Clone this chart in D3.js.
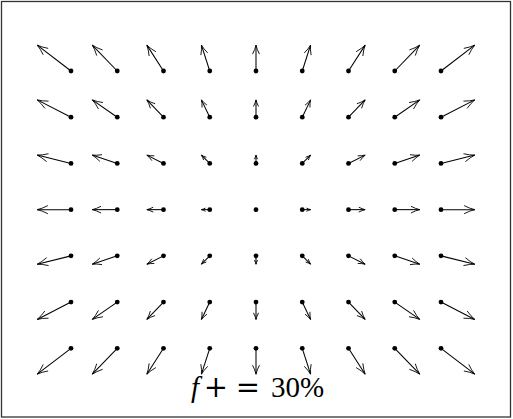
<!DOCTYPE html>
<html>
<head>
<meta charset="utf-8">
<script src="https://cdn.jsdelivr.net/npm/d3@7"></script>
<style>
  html, body { margin: 0; padding: 0; background: #fff; }
  svg { display: block; }
</style>
</head>
<body>
<script>
// Grid of sample points (grid units) and the displacement vector at each point.
const gridX = [-4, -3, -2, -1, 0, 1, 2, 3, 4];
const gridY = [3, 2, 1, 0, -1, -2, -3];

// Horizontal component, one row per gridY entry.
const U = [
  [-0.73, -0.54, -0.36, -0.18, 0, 0.18, 0.36, 0.54, 0.73],
  [-0.73, -0.54, -0.36, -0.18, 0, 0.18, 0.36, 0.54, 0.73],
  [-0.73, -0.54, -0.36, -0.18, 0, 0.18, 0.36, 0.54, 0.73],
  [-0.73, -0.54, -0.36, -0.18, 0, 0.18, 0.36, 0.54, 0.73],
  [-0.73, -0.54, -0.36, -0.18, 0, 0.18, 0.36, 0.54, 0.73],
  [-0.73, -0.54, -0.36, -0.18, 0, 0.18, 0.36, 0.54, 0.73],
  [-0.73, -0.54, -0.36, -0.18, 0, 0.18, 0.36, 0.54, 0.73]
];
// Vertical component (positive = up).
const V = [
  [0.56, 0.56, 0.56, 0.56, 0.56, 0.56, 0.56, 0.56, 0.56],
  [0.375, 0.375, 0.375, 0.375, 0.375, 0.375, 0.375, 0.375, 0.375],
  [0.18, 0.18, 0.18, 0.18, 0.18, 0.18, 0.18, 0.18, 0.18],
  [0, 0, 0, 0, 0, 0, 0, 0, 0],
  [-0.18, -0.18, -0.18, -0.18, -0.18, -0.18, -0.18, -0.18, -0.18],
  [-0.375, -0.375, -0.375, -0.375, -0.375, -0.375, -0.375, -0.375, -0.375],
  [-0.56, -0.56, -0.56, -0.56, -0.56, -0.56, -0.56, -0.56, -0.56]
];
const label = "30%";

const W = 513, H = 419;
const svg = d3.select("body").append("svg").attr("width", W).attr("height", H);

// Frame
svg.append("rect")
  .attr("x", 1.5).attr("y", 1.5)
  .attr("width", 509).attr("height", 415.5)
  .attr("fill", "none").attr("stroke", "#333").attr("stroke-width", 1.3);

const x = d3.scaleLinear().domain([-4, 4]).range([71, 441]);
const y = d3.scaleLinear().domain([-3, 3]).range([348.3, 71]);

const pts = [];
gridY.forEach((gy, r) => gridX.forEach((gx, c) => {
  pts.push({ gx, gy, u: U[r][c], v: V[r][c] });
}));

const g = svg.append("g");

pts.forEach(p => {
  const x0 = x(p.gx), y0 = y(p.gy);
  const x1 = x(p.gx + p.u), y1 = y(p.gy + p.v);
  const dx = x1 - x0, dy = y1 - y0;
  const len = Math.hypot(dx, dy);
  if (len > 0.5) {
    g.append("line")
      .attr("x1", x0).attr("y1", y0).attr("x2", x1).attr("y2", y1)
      .attr("stroke", "#000").attr("stroke-width", 1.05);
    // open arrowhead: two barbs swept back from the tip
    const hl = Math.min(11, 0.3 * len + 1.5);
    const ang = Math.atan2(dy, dx);
    const spread = 0.36;
    const path = d3.path();
    path.moveTo(x1 - hl * Math.cos(ang - spread), y1 - hl * Math.sin(ang - spread));
    path.quadraticCurveTo(
      x1 - 0.45 * hl * Math.cos(ang - spread * 0.6), y1 - 0.45 * hl * Math.sin(ang - spread * 0.6),
      x1, y1);
    path.quadraticCurveTo(
      x1 - 0.45 * hl * Math.cos(ang + spread * 0.6), y1 - 0.45 * hl * Math.sin(ang + spread * 0.6),
      x1 - hl * Math.cos(ang + spread), y1 - hl * Math.sin(ang + spread));
    g.append("path").attr("d", path.toString())
      .attr("fill", "none").attr("stroke", "#000").attr("stroke-width", 0.9)
      .attr("stroke-linecap", "round").attr("stroke-linejoin", "round");
  }
  g.append("circle").attr("cx", x0).attr("cy", y0).attr("r", 2.4).attr("fill", "#000");
});

// Caption, set with math-style spacing
const font = "'Liberation Serif', 'DejaVu Serif', serif";
const cap = svg.append("g").attr("font-family", font).attr("font-size", 29).attr("fill", "#000");
cap.append("text").attr("x", 191).attr("y", 397).attr("font-style", "italic").text("f");
cap.append("text").attr("x", 216).attr("y", 397).attr("text-anchor", "middle")
  .attr("font-family", "'DejaVu Serif', serif").attr("font-weight", 300).text("+");
cap.append("text").attr("x", 248).attr("y", 397).attr("text-anchor", "middle")
  .attr("font-family", "'DejaVu Serif', serif").attr("font-weight", 300).text("=");
cap.append("text").attr("x", 271).attr("y", 397).text(label);
</script>
</body>
</html>
